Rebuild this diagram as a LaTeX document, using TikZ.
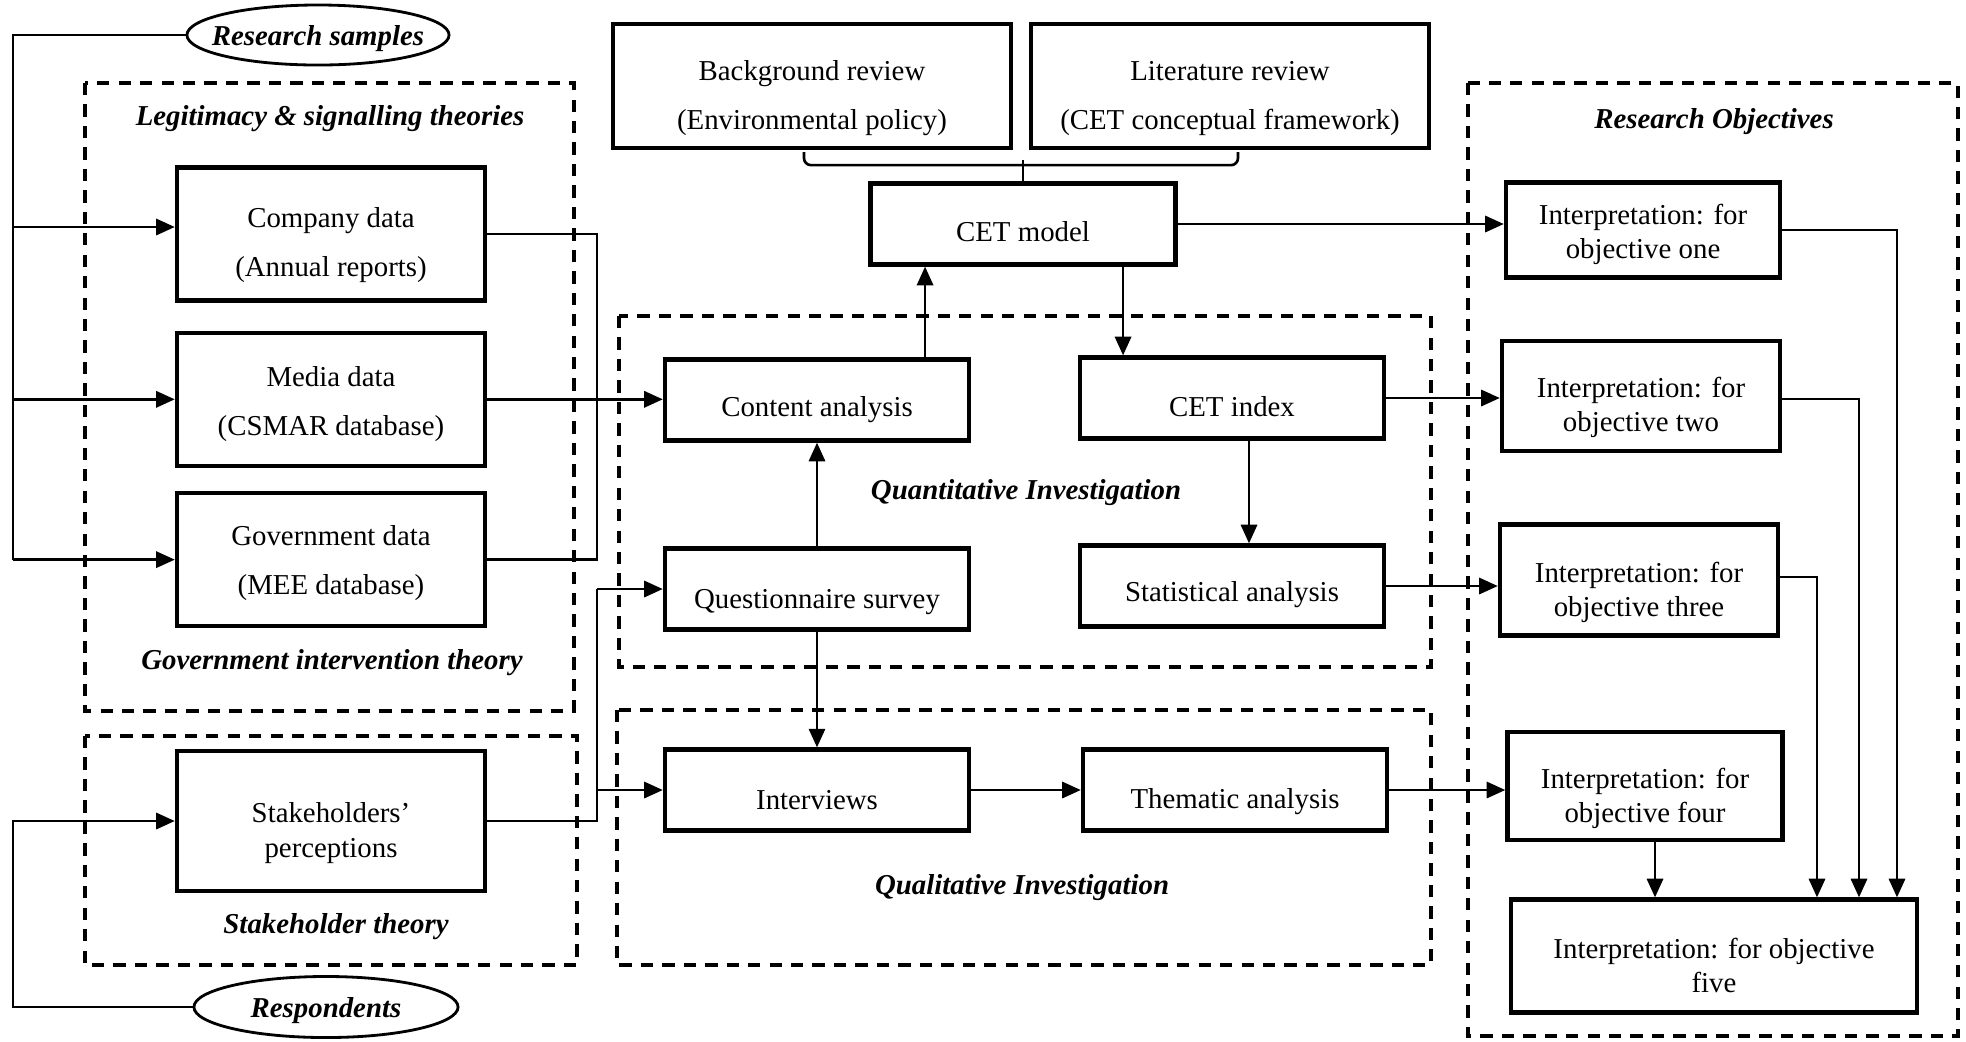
\documentclass[tikz,border=0pt]{standalone}
\usepackage{fontspec}
\setmainfont{Liberation Serif}
\usetikzlibrary{positioning}
\usetikzlibrary{calc}
\usetikzlibrary{arrows.meta}

\newcommand{\topgap}[1]{\rule{0pt}{#1}}

\begin{document}
\begin{tikzpicture}[x=0.01cm, y=-0.01cm,
	drop/.style={execute at begin node={\rule{0pt}{#1}}},
	databox/.style={rectangle, draw=black, line width=1.2pt, align=center, inner sep=0pt, minimum width=3.08cm, minimum height=1.33cm, font=\fontsize{8.2}{14}\selectfont},
	reviewbox/.style={databox, minimum width=3.98cm, minimum height=1.24cm},
	stepbox/.style={rectangle, draw=black, line width=1.2pt, align=center, inner sep=0pt, minimum width=3.04cm, minimum height=0.81cm, font=\fontsize{8.2}{10}\selectfont},
	objbox/.style={rectangle, draw=black, line width=1.2pt, align=center, inner sep=0pt, minimum width=2.76cm, minimum height=1.08cm, font=\fontsize{8.2}{9.6}\selectfont},
	sampleoval/.style={rectangle, inner sep=0pt, minimum width=2.62cm, minimum height=0.60cm, drop=7.6pt, font=\fontsize{8.2}{10}\selectfont\bfseries\itshape},
	ovalline/.style={draw=black, line width=0.8pt},
	theory/.style={font=\fontsize{8.2}{10}\selectfont\bfseries\itshape},
	group/.style={draw=black, line width=1.2pt, dash pattern=on 3.5pt off 2.6pt},
	link/.style={line width=0.75pt},
	arr/.style={line width=0.75pt, -{Triangle[length=5.3pt, width=4.6pt]}}]

	\useasboundingbox (0,0) rectangle (1966,1041);

	% dashed groups
	\draw[group] (85,83) rectangle (574,711);
	\draw[group] (85,736) rectangle (577,965);
	\draw[group] (619,316) rectangle (1431,667);
	\draw[group] (617,710) rectangle (1431,965);
	\draw[group] (1468,83) rectangle (1958,1036);

	\node[theory] (legit) at (330,119) {Legitimacy \& signalling theories};
	\node[theory] (govtheory) at (332,663) {Government intervention theory};
	\node[theory] (stktheory) at (336,927) {Stakeholder theory};
	\node[theory] (quant) at (1026,493) {Quantitative Investigation};
	\node[theory] (qual) at (1022,888) {Qualitative Investigation};
	\node[theory] (objtitle) at (1714,122) {Research Objectives};

	% data sources
	\node[sampleoval] (samples) at (318,35) {Research samples};
	\draw[ovalline] (samples.center) ellipse (1.31cm and 0.30cm);
	\node[databox] (company) at (331,234) {\topgap{12pt}Company data\\(Annual reports)};
	\node[databox] (media) [below = 0.28cm of company] {\topgap{8.4pt}Media data\\(CSMAR database)};
	\node[databox] (gov) [below = 0.23cm of media] {\topgap{7.7pt}Government data\\(MEE database)};
	\node[databox, minimum height=1.40cm, font=\fontsize{8.2}{10}\selectfont] (stake) at (331,821) {\topgap{12.7pt}Stakeholders'\\perceptions};
	\node[sampleoval, minimum width=2.64cm, minimum height=0.61cm] (respond) at (326,1007) {Respondents};
	\draw[ovalline] (respond.center) ellipse (1.32cm and 0.305cm);

	% model
	\node[reviewbox] (bgreview) at (812,86) {\topgap{12.7pt}Background review\\(Environmental policy)};
	\node[reviewbox] (litreview) at (1230,86) {\topgap{12.7pt}Literature review\\(CET conceptual framework)};
	\node[stepbox, minimum width=3.05cm, drop=9.9pt] (cetmodel) at (1023,224) {CET model};

	% investigation
	\node[stepbox, drop=11.3pt] (content) at (817,400) {Content analysis};
	\node[stepbox, drop=10.6pt] (cetindex) at (1232,398) {CET index};
	\node[stepbox, drop=13pt] (quest) at (817,589) {Questionnaire survey};
	\node[stepbox, drop=10.6pt] (stat) at (1232,586) {Statistical analysis};
	\node[stepbox, drop=11.3pt] (interv) at (817,790) {Interviews};
	\node[stepbox, drop=12pt] (thematic) at (1235,790) {Thematic analysis};

	% objectives
	\node[objbox, minimum width=2.74cm, minimum height=0.95cm] (obj1) at (1643,230) {\topgap{8.4pt}Interpretation: for\\objective one};
	\node[objbox, minimum width=2.78cm, minimum height=1.10cm] (obj2) at (1641,396) {\topgap{12.4pt}Interpretation: for\\objective two};
	\node[objbox, minimum width=2.78cm, minimum height=1.11cm] (obj3) at (1639,580) {\topgap{12.7pt}Interpretation: for\\objective three};
	\node[objbox, minimum width=2.75cm, minimum height=1.08cm] (obj4) at (1645,786) {\topgap{12.7pt}Interpretation: for\\objective four};
	\node[objbox, minimum width=4.06cm, minimum height=1.13cm] (obj5) at (1714,956) {\topgap{11.3pt}Interpretation: for objective\\five};

	% left trunks
	\coordinate (ltop) at (13,35);
	\coordinate (lbot) at (13,1007);
	\draw[link] (samples.west) -- (ltop) -- (ltop |- gov.west);
	\draw[arr] ([yshift=0.07cm]ltop |- company.west) -- ([yshift=0.07cm]company.west);
	\draw[arr] (ltop |- media.west) -- (media.west);
	\draw[arr] (ltop |- gov.west) -- (gov.west);
	\draw[arr] (respond.west) -- (lbot) |- (stake.west);

	% sources into investigation
	\coordinate (join) at (597,400);
	\draw[link] (company.east) -- (company.east -| join) -- (gov.east -| join) -- (gov.east);
	\draw[arr] (media.east) -- (media.east -| content.west);
	\draw[link] (stake.east) -- (stake.east -| join) -- (quest.west -| join);
	\draw[arr] (quest.west -| join) -- (quest.west);
	\draw[arr] (interv.west -| join) -- (interv.west);

	% reviews into model
	\draw[link, rounded corners=2pt] ([xshift=-0.08cm, yshift=-0.02cm]bgreview.south) -- ++(0,13) -| ([xshift=0.08cm, yshift=-0.02cm]litreview.south);
	\draw[link] (cetmodel.north) -- ++(0,-21);

	% investigation flow
	\draw[arr] ([xshift=1.08cm]content.north) -- ([xshift=1.08cm]content.north |- cetmodel.south);
	\draw[arr] ([xshift=1.0cm]cetmodel.south) -- ([xshift=1.0cm]cetmodel.south |- cetindex.north);
	\draw[arr] (quest.north) -- (content.south);
	\draw[arr] ([xshift=0.17cm]cetindex.south) -- ([xshift=0.17cm]stat.north);
	\draw[arr] (quest.south) -- (interv.north);
	\draw[arr] (interv.east) -- (thematic.west);

	% into objectives
	\draw[arr] (cetmodel.east) -- (cetmodel.east -| obj1.west);
	\draw[arr] (cetindex.east) -- (cetindex.east -| obj2.west);
	\draw[arr] (stat.east) -- (stat.east -| obj3.west);
	\draw[arr] (thematic.east) -- (thematic.east -| obj4.west);

	% objectives into objective five
	\coordinate (c1) at (1897,0);
	\coordinate (c2) at (1859,0);
	\coordinate (c3) at (1817,0);
	\draw[arr] (obj1.east) -| (c1 |- obj5.north);
	\draw[arr] ([yshift=-0.03cm]obj2.east) -| (c2 |- obj5.north);
	\draw[arr] ([yshift=0.03cm]obj3.east) -| (c3 |- obj5.north);
	\draw[arr] ([xshift=0.1cm]obj4.south) -- ([xshift=0.1cm]obj4.south |- obj5.north);
\end{tikzpicture}
\end{document}
